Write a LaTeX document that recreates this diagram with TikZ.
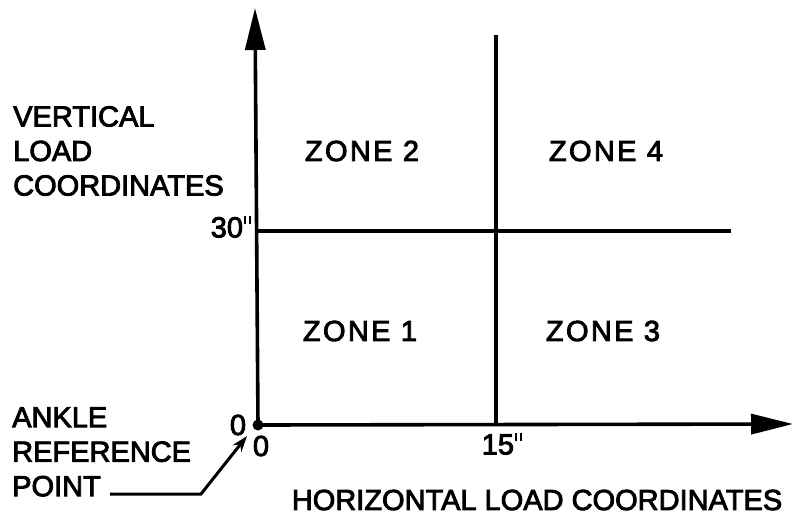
\documentclass[tikz,border=0pt]{standalone}
\usepackage{fontspec}
\setmainfont[FakeBold=3]{Liberation Sans}
\usetikzlibrary{arrows.meta}
\newcommand{\dblmark}{\hspace{1pt}\rule[13pt]{2.4pt}{8pt}\hspace{2.4pt}\rule[13pt]{2.4pt}{8pt}}
\begin{document}
\begin{tikzpicture}[x=1pt,y=-1pt,
  lbl/.style={font=\fontsize{29}{33}\selectfont, inner sep=0pt},
  zone/.style={font=\fontsize{29}{33}\selectfont\addfontfeature{LetterSpace=8}, inner sep=0pt},
  side/.style={font=\fontsize{29}{34.5}\selectfont, inner sep=0pt, align=left, anchor=north west},
  axis/.style={line width=3.6pt, -{Triangle[length=42pt,width=20pt]}},
  grid/.style={line width=3.2pt},
  leader/.style={line width=3pt, -{Stealth[length=16pt,width=11pt]}}]
\useasboundingbox (0,0) rectangle (794,520);
\coordinate (O) at (258,425);
\coordinate (ytip) at (255,8);
\coordinate (xtip) at (793,424);
\coordinate (vtop) at (496,35);
\coordinate (vbot) at (496,425);
\coordinate (hl) at (258,231);
\coordinate (hr) at (731,231);
\draw[axis] (O) -- (ytip);
\draw[axis] (O) -- (xtip);
\draw[grid] (vtop) -- (vbot);
\draw[grid] (hl) -- (hr);
\fill (O) circle (5.5);
\node[zone] (z2) at (362,151) {ZONE 2};
\node[zone] (z4) at (606,151) {ZONE 4};
\node[zone] (z1) at (360,331) {ZONE 1};
\node[zone] (z3) at (603,331) {ZONE 3};
\node[lbl] (t30) at (231,227) {30\dblmark};
\node[lbl] (t0a) at (238,425) {0};
\node[lbl] (t0b) at (261,446) {0};
\node[lbl] (t15) at (502,444) {15\dblmark};
\node[side] (vl) at (13,106) {VERTICAL\\LOAD\\COORDINATES};
\node[side] (ar) at (12,407) {ANKLE\\REFERENCE\\POINT};
\node[lbl] (hz) at (537,500) {HORIZONTAL LOAD COORDINATES};
\coordinate (lstart) at (110,494);
\coordinate (lbend) at (201,494);
\coordinate (lend) at (247,436);
\draw[leader] (lstart) -- (lbend) -- (lend);
\end{tikzpicture}
\end{document}
